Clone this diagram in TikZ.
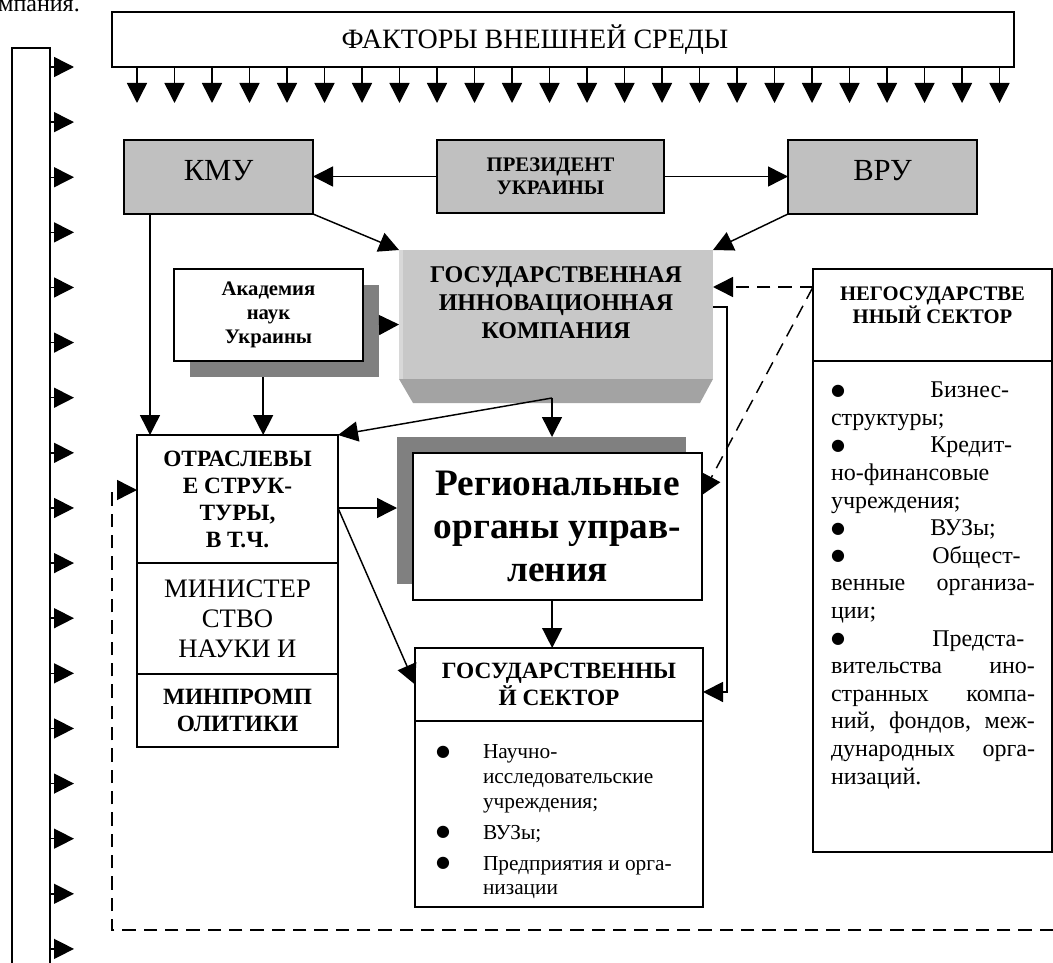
\documentclass[tikz,border=0pt]{standalone}
\usepackage{fontspec}
\setmainfont{Liberation Serif}
\newfontfamily\symfont{DejaVu Sans}
\usetikzlibrary{arrows.meta,shadows}

\definecolor{boxgray}{RGB}{192,192,192}
\definecolor{gikgray}{RGB}{200,200,200}
\definecolor{gikedge}{RGB}{216,216,216}
\definecolor{bevelgray}{RGB}{163,163,163}
\definecolor{shadowgray}{RGB}{128,128,128}
\newcommand\dotmark{\raisebox{2pt}{\symfont\fontsize{12}{12}\selectfont ●}}

\begin{document}
\begin{tikzpicture}[x=0.75pt,y=-0.75pt,
  arr/.style={line width=1.1pt,-{Triangle[length=15pt,width=15pt]}},
  dasharr/.style={arr,dash pattern=on 10pt off 6pt},
  box/.style={draw,line width=1.3pt,fill=white,inner sep=0pt,outer sep=0pt,align=center},
  govbox/.style={box,fill=boxgray,minimum width=141.75pt,minimum height=55.5pt},
  headfont/.style={font=\bfseries\fontsize{17.5}{20.25}\selectfont},
  listtext/.style={inner sep=0pt,outer sep=0pt,anchor=north west,align=left},
  shadowbox/.style={drop shadow={shadow xshift=#1,shadow yshift=-#1,fill=shadowgray,opacity=1}}]
\useasboundingbox (0,0) rectangle (1053,963);
% Text cut off above
\node[font=\fontsize{18}{20}\selectfont,anchor=base east,inner sep=0pt] (prevtext) at (80,12) {компания.};
% Outer factors
\node[box,minimum width=676.5pt,minimum height=41.25pt,font=\fontsize{21}{25}\selectfont] (factors) at (563,39.5) {ФАКТОРЫ ВНЕШНЕЙ СРЕДЫ\hspace*{42pt}};
\foreach \k in {0,...,23}
  \draw[arr] ([xshift=18.75pt+\k*28.125pt]factors.south west) -- ++(0,36);
\node[box,minimum width=28.5pt,minimum height=720pt,anchor=north] (bar) at (31,48) {};
\foreach \k in {0,...,16}
  \draw[arr] ([yshift=-14.25pt-\k*41.34pt]bar.north east) -- ++(24,0);
% Top level
\node[govbox,font=\fontsize{23}{27}\selectfont,text depth=9.2pt] (kmu) at (218.5,177) {КМУ};
\node[govbox,minimum width=170.25pt,minimum height=54.75pt,font=\bfseries\fontsize{15.5}{17.25}\selectfont] (pres) at (550.5,176.5) {ПРЕЗИДЕНТ\\УКРАИНЫ};
\node[govbox,font=\fontsize{23}{27}\selectfont,text depth=9.2pt] (vru) at (882.5,177) {ВРУ};
% Innovation company with bevel
\node[fill=gikgray,inner sep=0pt,outer sep=0pt,minimum width=235.5pt,minimum height=96.75pt,align=center,font=\bfseries\fontsize{18}{21}\selectfont,text depth=17.25pt] (gik) at (556,314.5) {ГОСУДАРСТВЕННАЯ\\ИННОВАЦИОННАЯ\\КОМПАНИЯ};
\fill[gikedge] (gik.north west) rectangle ([xshift=3pt]gik.south west);
\fill[bevelgray] (gik.south west) -- (gik.south east) -- ([xshift=-9.75pt,yshift=-18pt]gik.south east) -- ([xshift=10.5pt,yshift=-18pt]gik.south west) -- cycle;
\node[box,shadowbox=12pt,minimum width=141.75pt,minimum height=69pt,font=\bfseries\fontsize{15.5}{18}\selectfont] (akad) at (268.5,315) {Академия\\наук\\Украины};
% Branch structures
\node[box,headfont,minimum width=150.75pt,minimum height=96pt] (otr1) at (237.5,499) {ОТРАСЛЕВЫ\\Е СТРУК-\\ТУРЫ,\\В Т.Ч.};
\node[box,minimum width=150.75pt,minimum height=83.25pt,font=\fontsize{20}{22.5}\selectfont] (otr2) at (237.5,618.5) {МИНИСТЕР\\СТВО\\НАУКИ И};
\node[box,headfont,minimum width=150.75pt,minimum height=54.75pt] (otr3) at (237.5,710.5) {МИНПРОМП\\ОЛИТИКИ};
% Regional bodies
\node[box,shadowbox=-12pt,minimum width=216.75pt,minimum height=110.25pt,font=\bfseries\fontsize{28}{32}\selectfont] (reg) at (557.5,526.5) {Региональные\\органы управ-\\ления};
% State sector
\node[box,headfont,minimum width=216pt,minimum height=54.75pt] (goshead) at (559,684.5) {ГОСУДАРСТВЕННЫ\\Й СЕКТОР};
\node[box,minimum width=216pt,minimum height=139.5pt] (goslist) at (559,814) {};
\node[listtext,font=\fontsize{16}{18.4}\selectfont] (gostext) at (436,745) {%
\makebox[35.25pt][l]{\dotmark}Научно-\\
\hspace*{35.25pt}исследовательские\\
\hspace*{35.25pt}учреждения;\\[5pt]
\makebox[35.25pt][l]{\dotmark}ВУЗы;\\[5pt]
\makebox[35.25pt][l]{\dotmark}Предприятия и орга-\\
\hspace*{35.25pt}низации};
% Non-state sector
\node[box,minimum width=179.25pt,minimum height=69pt,font=\bfseries\fontsize{15.5}{17.25}\selectfont,text depth=15.5pt] (neghead) at (932.5,315) {НЕГОСУДАРСТВЕ\\ННЫЙ СЕКТОР};
\node[box,minimum width=179.25pt,minimum height=368.25pt] (neglist) at (932.5,606.5) {};
\node[listtext,text width=153pt,font=\fontsize{18}{20.7}\selectfont] (negtext) at (831,382) {%
\makebox[74.5pt][l]{\dotmark}Бизнес-\\
структуры;\\
\makebox[74.5pt][l]{\dotmark}Кредит-\\
но-финансовые\\
учреждения;\\
\makebox[74.5pt][l]{\dotmark}ВУЗы;\\
\makebox[76pt][l]{\dotmark}Общест-\\
венные\hfill организа-\\
ции;\\
\makebox[76pt][l]{\dotmark}Предста-\\
вительства\hfill ино-\\
странных\hfill компа-\\
ний,\hfill фондов,\hfill меж-\\
дународных\hfill орга-\\
низаций.};
% President and ministries
\draw[arr] (pres.west) -- (pres.west -| kmu.east);
\draw[arr] (pres.east) -- (pres.east -| vru.west);
\draw[arr] (kmu.south east) -- (gik.north west);
\draw[arr] (vru.south west) -- (gik.north east);
\draw[arr] ([xshift=12pt,yshift=-7.5pt]akad.east) -- ([yshift=-7.5pt]gik.west);
% Down to branch structures
\coordinate (kmuout) at ([xshift=19.5pt]kmu.south west);
\coordinate (akadout) at ([xshift=-4pt,yshift=-12pt]akad.south);
\draw[arr] (kmuout) -- (kmuout |- otr1.north);
\draw[arr] (akadout) -- (akadout |- otr1.north);
% From the company
\coordinate (fork) at (552,398);
\coordinate (regshadow) at ([xshift=-12pt,yshift=12pt]reg.north west);
\draw[arr] (fork) -- (fork |- regshadow);
\draw[arr] (fork) -- (otr1.north east);
\draw[arr] ([yshift=5.6pt]gik.east) -- ++(14,0) |- ([yshift=-5.6pt]goshead.east);
% From branch structures
\coordinate (otrout) at ([yshift=-6.75pt]otr1.east);
\draw[arr] (otrout) -- (otrout -| regshadow);
\draw[arr] (otrout) -- (goshead.west);
\coordinate (regout) at ([xshift=-4pt]reg.south);
\draw[arr] (regout) -- (regout |- goshead.north);
% Non-state links
\coordinate (negout) at ([yshift=21pt]neghead.west);
\draw[dasharr] (negout) -- (negout -| gik.east);
\draw[dasharr] (negout) -- ([yshift=23.6pt]reg.east);
% Feedback
\coordinate (dashend) at (1053,930);
\coordinate (dashcorner) at (112,490);
\draw[dasharr] (dashend) -| (dashcorner) -- (dashcorner -| otr1.west);
\end{tikzpicture}
\end{document}
